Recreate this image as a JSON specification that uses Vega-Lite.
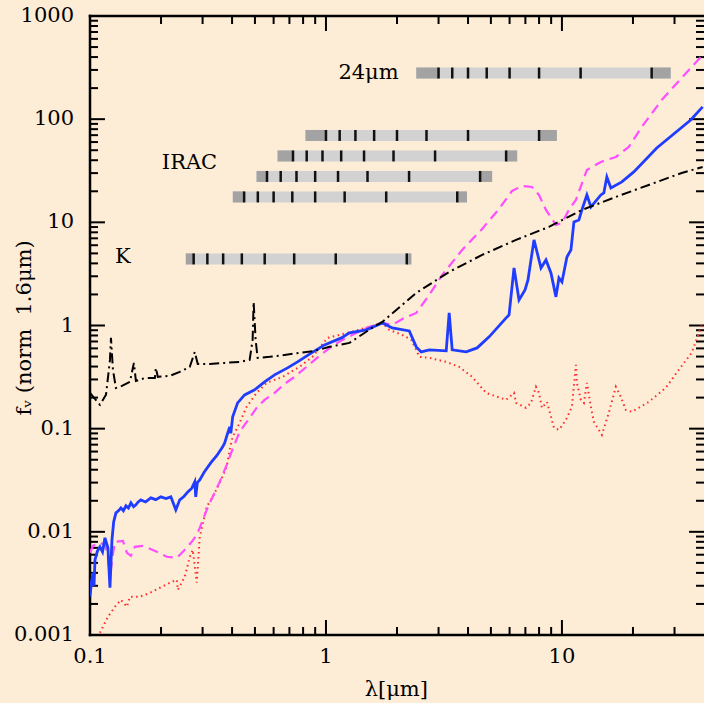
{
  "$schema": "https://vega.github.io/schema/vega-lite/v6.json",
  "width": 614,
  "height": 619,
  "autosize": {"type": "none"},
  "padding": {"left": 90, "top": 16, "right": 0, "bottom": 68},
  "background": "#fdecd6",
  "config": {
    "view": {"stroke": null},
    "font": "DejaVu Serif"
  },
  "datasets": {
    "xmaj": [{"v": 0.1}, {"v": 1}, {"v": 10}],
    "xmin": [{"v": 0.2}, {"v": 0.3}, {"v": 0.4}, {"v": 0.5}, {"v": 0.6}, {"v": 0.7}, {"v": 0.8}, {"v": 0.9},
             {"v": 2}, {"v": 3}, {"v": 4}, {"v": 5}, {"v": 6}, {"v": 7}, {"v": 8}, {"v": 9}, {"v": 20}, {"v": 30}],
    "ymaj": [{"v": 0.001}, {"v": 0.01}, {"v": 0.1}, {"v": 1}, {"v": 10}, {"v": 100}, {"v": 1000}],
    "ymin": [{"v": 0.002}, {"v": 0.003}, {"v": 0.004}, {"v": 0.005}, {"v": 0.006}, {"v": 0.007}, {"v": 0.008}, {"v": 0.009},
             {"v": 0.02}, {"v": 0.03}, {"v": 0.04}, {"v": 0.05}, {"v": 0.06}, {"v": 0.07}, {"v": 0.08}, {"v": 0.09},
             {"v": 0.2}, {"v": 0.3}, {"v": 0.4}, {"v": 0.5}, {"v": 0.6}, {"v": 0.7}, {"v": 0.8}, {"v": 0.9},
             {"v": 2}, {"v": 3}, {"v": 4}, {"v": 5}, {"v": 6}, {"v": 7}, {"v": 8}, {"v": 9},
             {"v": 20}, {"v": 30}, {"v": 40}, {"v": 50}, {"v": 60}, {"v": 70}, {"v": 80}, {"v": 90},
             {"v": 200}, {"v": 300}, {"v": 400}, {"v": 500}, {"v": 600}, {"v": 700}, {"v": 800}, {"v": 900}],
    "xlab": [{"v": 0.1, "t": "0.1"}, {"v": 1, "t": "1"}, {"v": 10, "t": "10"}],
    "ylab": [{"v": 0.001, "t": "0.001"}, {"v": 0.01, "t": "0.01"}, {"v": 0.1, "t": "0.1"}, {"v": 1, "t": "1"},
             {"v": 10, "t": "10"}, {"v": 100, "t": "100"}, {"v": 1000, "t": "1000"}],
    "bands": [
      {"band": "K", "f": 4.42, "lo": 0.2547, "hi": 2.30},
      {"band": "3.6", "f": 17.63, "lo": 0.403, "hi": 3.96},
      {"band": "4.5", "f": 27.85, "lo": 0.508, "hi": 5.06},
      {"band": "5.8", "f": 44.0, "lo": 0.6235, "hi": 6.46},
      {"band": "8.0", "f": 69.5, "lo": 0.819, "hi": 9.52},
      {"band": "24", "f": 280, "lo": 2.414, "hi": 28.9}
    ],
    "darks": [
      {"band": "K", "f": 4.42, "a": 0.2547, "b": 0.275},
      {"band": "K", "f": 4.42, "a": 2.2, "b": 2.30},
      {"band": "3.6", "f": 17.63, "a": 0.403, "b": 0.45},
      {"band": "3.6", "f": 17.63, "a": 3.6, "b": 3.96},
      {"band": "4.5", "f": 27.85, "a": 0.508, "b": 0.5625},
      {"band": "4.5", "f": 27.85, "a": 4.5, "b": 5.06},
      {"band": "5.8", "f": 44.0, "a": 0.6235, "b": 0.725},
      {"band": "5.8", "f": 44.0, "a": 5.8, "b": 6.46},
      {"band": "8.0", "f": 69.5, "a": 0.819, "b": 1.0},
      {"band": "8.0", "f": 69.5, "a": 8.0, "b": 9.52},
      {"band": "24", "f": 280, "a": 2.414, "b": 3.0},
      {"band": "24", "f": 280, "a": 24, "b": 28.9}
    ],
    "zticks": [
      {"band": "K", "f": 4.42, "lam": 2.2}, {"band": "K", "f": 4.42, "lam": 1.1}, {"band": "K", "f": 4.42, "lam": 0.7333}, {"band": "K", "f": 4.42, "lam": 0.55},
      {"band": "K", "f": 4.42, "lam": 0.44}, {"band": "K", "f": 4.42, "lam": 0.3667}, {"band": "K", "f": 4.42, "lam": 0.3143}, {"band": "K", "f": 4.42, "lam": 0.275},
      {"band": "3.6", "f": 17.63, "lam": 3.6}, {"band": "3.6", "f": 17.63, "lam": 1.8}, {"band": "3.6", "f": 17.63, "lam": 1.2}, {"band": "3.6", "f": 17.63, "lam": 0.9},
      {"band": "3.6", "f": 17.63, "lam": 0.72}, {"band": "3.6", "f": 17.63, "lam": 0.6}, {"band": "3.6", "f": 17.63, "lam": 0.5143}, {"band": "3.6", "f": 17.63, "lam": 0.45},
      {"band": "4.5", "f": 27.85, "lam": 4.5}, {"band": "4.5", "f": 27.85, "lam": 2.25}, {"band": "4.5", "f": 27.85, "lam": 1.5}, {"band": "4.5", "f": 27.85, "lam": 1.125},
      {"band": "4.5", "f": 27.85, "lam": 0.9}, {"band": "4.5", "f": 27.85, "lam": 0.75}, {"band": "4.5", "f": 27.85, "lam": 0.6429}, {"band": "4.5", "f": 27.85, "lam": 0.5625},
      {"band": "5.8", "f": 44.0, "lam": 5.8}, {"band": "5.8", "f": 44.0, "lam": 2.9}, {"band": "5.8", "f": 44.0, "lam": 1.9333}, {"band": "5.8", "f": 44.0, "lam": 1.45},
      {"band": "5.8", "f": 44.0, "lam": 1.16}, {"band": "5.8", "f": 44.0, "lam": 0.9667}, {"band": "5.8", "f": 44.0, "lam": 0.8286}, {"band": "5.8", "f": 44.0, "lam": 0.725},
      {"band": "8.0", "f": 69.5, "lam": 8.0}, {"band": "8.0", "f": 69.5, "lam": 4.0}, {"band": "8.0", "f": 69.5, "lam": 2.667}, {"band": "8.0", "f": 69.5, "lam": 2.0},
      {"band": "8.0", "f": 69.5, "lam": 1.6}, {"band": "8.0", "f": 69.5, "lam": 1.333}, {"band": "8.0", "f": 69.5, "lam": 1.143}, {"band": "8.0", "f": 69.5, "lam": 1.0},
      {"band": "24", "f": 280, "lam": 24}, {"band": "24", "f": 280, "lam": 12}, {"band": "24", "f": 280, "lam": 8}, {"band": "24", "f": 280, "lam": 6},
      {"band": "24", "f": 280, "lam": 4.8}, {"band": "24", "f": 280, "lam": 4.0}, {"band": "24", "f": 280, "lam": 3.429}, {"band": "24", "f": 280, "lam": 3.0}
    ],
    "labels": [
      {"text": "24μm", "lam": 1.129, "f": 280},
      {"text": "IRAC", "lam": 0.2016, "f": 37.6},
      {"text": "K", "lam": 0.1276, "f": 4.62}
    ],
    "red": [
      {"lam": 0.1102, "f": 0.00105}, {"lam": 0.1191, "f": 0.00150}, {"lam": 0.1276, "f": 0.00188}, {"lam": 0.1352, "f": 0.00219},
      {"lam": 0.1434, "f": 0.00188}, {"lam": 0.1476, "f": 0.00235}, {"lam": 0.1627, "f": 0.00235}, {"lam": 0.1794, "f": 0.00256},
      {"lam": 0.1977, "f": 0.00287}, {"lam": 0.2180, "f": 0.00321}, {"lam": 0.2333, "f": 0.00343}, {"lam": 0.2356, "f": 0.00274},
      {"lam": 0.2522, "f": 0.00367}, {"lam": 0.2648, "f": 0.00573}, {"lam": 0.2726, "f": 0.00669}, {"lam": 0.2834, "f": 0.00321},
      {"lam": 0.2918, "f": 0.00895}, {"lam": 0.3123, "f": 0.01748}, {"lam": 0.3312, "f": 0.02183}, {"lam": 0.3546, "f": 0.02984},
      {"lam": 0.3796, "f": 0.04265}, {"lam": 0.3908, "f": 0.06232}, {"lam": 0.4024, "f": 0.0832}, {"lam": 0.4306, "f": 0.1138},
      {"lam": 0.4611, "f": 0.1627}, {"lam": 0.5083, "f": 0.2223}, {"lam": 0.5603, "f": 0.2779}, {"lam": 0.6548, "f": 0.3177},
      {"lam": 0.7725, "f": 0.3970}, {"lam": 0.8768, "f": 0.4963}, {"lam": 1.0146, "f": 0.7584}, {"lam": 1.233, "f": 0.8480},
      {"lam": 1.527, "f": 0.9692}, {"lam": 1.734, "f": 1.060}, {"lam": 1.856, "f": 0.9066}, {"lam": 2.106, "f": 0.8107},
      {"lam": 2.298, "f": 0.7252}, {"lam": 2.414, "f": 0.5803}, {"lam": 2.485, "f": 0.4963}, {"lam": 2.739, "f": 0.4855},
      {"lam": 3.233, "f": 0.4440}, {"lam": 3.668, "f": 0.3970}, {"lam": 4.163, "f": 0.3177}, {"lam": 4.771, "f": 0.2223},
      {"lam": 5.798, "f": 0.1901}, {"lam": 6.266, "f": 0.2223}, {"lam": 6.391, "f": 0.1778}, {"lam": 7.044, "f": 0.1591},
      {"lam": 7.393, "f": 0.1778}, {"lam": 7.762, "f": 0.2542}, {"lam": 7.992, "f": 0.2223}, {"lam": 8.229, "f": 0.1591},
      {"lam": 8.643, "f": 0.1818}, {"lam": 9.252, "f": 0.1018}, {"lam": 9.712, "f": 0.0974}, {"lam": 10.40, "f": 0.1217},
      {"lam": 11.02, "f": 0.1627}, {"lam": 11.46, "f": 0.4151}, {"lam": 11.57, "f": 0.2779}, {"lam": 12.03, "f": 0.1901},
      {"lam": 12.39, "f": 0.1778}, {"lam": 12.76, "f": 0.2779}, {"lam": 13.27, "f": 0.1627}, {"lam": 13.66, "f": 0.1164},
      {"lam": 14.33, "f": 0.0974}, {"lam": 14.76, "f": 0.0871}, {"lam": 15.80, "f": 0.1422}, {"lam": 16.92, "f": 0.2542},
      {"lam": 17.77, "f": 0.2033}, {"lam": 18.65, "f": 0.1521}, {"lam": 19.77, "f": 0.1455}, {"lam": 23.33, "f": 0.1818},
      {"lam": 27.53, "f": 0.2485}, {"lam": 31.25, "f": 0.3713}, {"lam": 35.45, "f": 0.5426}, {"lam": 39.47, "f": 1.060}
    ],
    "magenta": [
      {"lam": 0.1000, "f": 0.00626}, {"lam": 0.1030, "f": 0.00732}, {"lam": 0.1102, "f": 0.00782}, {"lam": 0.1157, "f": 0.00748},
      {"lam": 0.1191, "f": 0.00573}, {"lam": 0.1215, "f": 0.00343}, {"lam": 0.1239, "f": 0.00536}, {"lam": 0.1276, "f": 0.0080},
      {"lam": 0.1379, "f": 0.00818}, {"lam": 0.1434, "f": 0.00626}, {"lam": 0.1491, "f": 0.00586}, {"lam": 0.1550, "f": 0.00716},
      {"lam": 0.1660, "f": 0.00732}, {"lam": 0.1759, "f": 0.00700}, {"lam": 0.1920, "f": 0.00640}, {"lam": 0.2117, "f": 0.00573},
      {"lam": 0.2333, "f": 0.00560}, {"lam": 0.2522, "f": 0.00669}, {"lam": 0.2700, "f": 0.0080}, {"lam": 0.2834, "f": 0.00935},
      {"lam": 0.2918, "f": 0.01093}, {"lam": 0.3123, "f": 0.01634}, {"lam": 0.3312, "f": 0.02183}, {"lam": 0.3546, "f": 0.03051},
      {"lam": 0.3796, "f": 0.04459}, {"lam": 0.4024, "f": 0.06372}, {"lam": 0.4306, "f": 0.0931}, {"lam": 0.4748, "f": 0.1273},
      {"lam": 0.5083, "f": 0.1591}, {"lam": 0.5495, "f": 0.1901}, {"lam": 0.6057, "f": 0.2223}, {"lam": 0.6676, "f": 0.2716},
      {"lam": 0.7360, "f": 0.3177}, {"lam": 0.8270, "f": 0.3970}, {"lam": 0.9386, "f": 0.5074}, {"lam": 1.0654, "f": 0.6344},
      {"lam": 1.1972, "f": 0.7417}, {"lam": 1.346, "f": 0.8480}, {"lam": 1.527, "f": 0.9692}, {"lam": 1.734, "f": 1.060},
      {"lam": 1.910, "f": 1.013}, {"lam": 2.147, "f": 1.184}, {"lam": 2.414, "f": 1.324}, {"lam": 2.739, "f": 1.979},
      {"lam": 3.109, "f": 3.093}, {"lam": 3.778, "f": 5.403}, {"lam": 4.589, "f": 8.63}, {"lam": 5.415, "f": 13.49},
      {"lam": 6.146, "f": 20.15}, {"lam": 6.774, "f": 22.53}, {"lam": 7.466, "f": 22.03}, {"lam": 7.992, "f": 18.42},
      {"lam": 8.557, "f": 13.19}, {"lam": 9.433, "f": 9.44}, {"lam": 10.00, "f": 9.87}, {"lam": 10.70, "f": 13.19},
      {"lam": 11.46, "f": 16.49}, {"lam": 12.76, "f": 32.2}, {"lam": 14.62, "f": 38.5}, {"lam": 16.92, "f": 43.0},
      {"lam": 19.20, "f": 53.8}, {"lam": 21.79, "f": 84.0}, {"lam": 26.48, "f": 153.6}, {"lam": 32.17, "f": 250.9},
      {"lam": 39.47, "f": 419}
    ],
    "blue": [
      {"lam": 0.1000, "f": 0.00235}, {"lam": 0.1015, "f": 0.00330}, {"lam": 0.1030, "f": 0.00401}, {"lam": 0.1040, "f": 0.00300}, {"lam": 0.1050, "f": 0.00536}, {"lam": 0.1075, "f": 0.00650}, {"lam": 0.1102, "f": 0.00716},
      {"lam": 0.1130, "f": 0.00640}, {"lam": 0.1157, "f": 0.00875}, {"lam": 0.1191, "f": 0.00700}, {"lam": 0.1215, "f": 0.00287}, {"lam": 0.1239, "f": 0.00837},
      {"lam": 0.1260, "f": 0.01250}, {"lam": 0.1288, "f": 0.01528}, {"lam": 0.1320, "f": 0.01600}, {"lam": 0.1352, "f": 0.01709}, {"lam": 0.1385, "f": 0.01600}, {"lam": 0.1420, "f": 0.01786}, {"lam": 0.1455, "f": 0.01700}, {"lam": 0.1491, "f": 0.01910},
      {"lam": 0.1530, "f": 0.01750}, {"lam": 0.1565, "f": 0.01826}, {"lam": 0.1600, "f": 0.01950}, {"lam": 0.1643, "f": 0.02042}, {"lam": 0.1720, "f": 0.01950}, {"lam": 0.1811, "f": 0.02135}, {"lam": 0.1900, "f": 0.02050}, {"lam": 0.1996, "f": 0.02183},
      {"lam": 0.2100, "f": 0.02100}, {"lam": 0.2201, "f": 0.02183}, {"lam": 0.2310, "f": 0.01634}, {"lam": 0.2401, "f": 0.02042}, {"lam": 0.2500, "f": 0.02200}, {"lam": 0.2597, "f": 0.02441},
      {"lam": 0.2700, "f": 0.02650}, {"lam": 0.2780, "f": 0.03051}, {"lam": 0.2806, "f": 0.02183}, {"lam": 0.2850, "f": 0.03000}, {"lam": 0.2918, "f": 0.03191}, {"lam": 0.3050, "f": 0.03800}, {"lam": 0.3248, "f": 0.04662},
      {"lam": 0.3450, "f": 0.05500}, {"lam": 0.3650, "f": 0.06664}, {"lam": 0.3722, "f": 0.07285}, {"lam": 0.3800, "f": 0.08500}, {"lam": 0.3908, "f": 0.1041}, {"lam": 0.3950, "f": 0.0900}, {"lam": 0.4024, "f": 0.1301},
      {"lam": 0.4223, "f": 0.1778}, {"lam": 0.4521, "f": 0.2126}, {"lam": 0.4985, "f": 0.2377}, {"lam": 0.5495, "f": 0.2841},
      {"lam": 0.6057, "f": 0.3322}, {"lam": 0.6875, "f": 0.3883}, {"lam": 0.7577, "f": 0.4440}, {"lam": 0.8683, "f": 0.5426},
      {"lam": 0.9856, "f": 0.6486}, {"lam": 1.163, "f": 0.7584}, {"lam": 1.257, "f": 0.8480}, {"lam": 1.483, "f": 0.9066},
      {"lam": 1.734, "f": 1.060}, {"lam": 1.910, "f": 0.9480}, {"lam": 2.255, "f": 0.8866}, {"lam": 2.322, "f": 0.7584},
      {"lam": 2.414, "f": 0.6206}, {"lam": 2.534, "f": 0.5550}, {"lam": 2.739, "f": 0.5803}, {"lam": 3.233, "f": 0.5675},
      {"lam": 3.328, "f": 1.324}, {"lam": 3.427, "f": 0.5803}, {"lam": 3.928, "f": 0.5550}, {"lam": 4.371, "f": 0.6065},
      {"lam": 4.914, "f": 0.7758}, {"lam": 5.853, "f": 1.211}, {"lam": 5.969, "f": 1.267}, {"lam": 6.266, "f": 3.614},
      {"lam": 6.579, "f": 1.771}, {"lam": 6.974, "f": 2.213}, {"lam": 7.180, "f": 2.766}, {"lam": 7.614, "f": 6.76},
      {"lam": 8.152, "f": 3.614}, {"lam": 8.557, "f": 4.32}, {"lam": 8.984, "f": 3.234}, {"lam": 9.433, "f": 1.893},
      {"lam": 9.712, "f": 2.891}, {"lam": 10.00, "f": 2.644}, {"lam": 10.50, "f": 4.62}, {"lam": 10.92, "f": 5.403},
      {"lam": 11.24, "f": 10.09}, {"lam": 11.80, "f": 10.55}, {"lam": 12.15, "f": 13.19}, {"lam": 12.76, "f": 18.42},
      {"lam": 13.27, "f": 14.11}, {"lam": 14.62, "f": 18.42}, {"lam": 15.05, "f": 19.27}, {"lam": 15.50, "f": 27.55},
      {"lam": 16.12, "f": 21.54}, {"lam": 17.94, "f": 24.63}, {"lam": 20.16, "f": 30.8}, {"lam": 25.22, "f": 52.6},
      {"lam": 35.12, "f": 98.2}, {"lam": 39.47, "f": 131.5}
    ],
    "black": [
      {"lam": 0.100, "f": 0.222}, {"lam": 0.1102, "f": 0.170}, {"lam": 0.1169, "f": 0.213}, {"lam": 0.1215, "f": 0.464},
      {"lam": 0.1227, "f": 0.758}, {"lam": 0.1251, "f": 0.371}, {"lam": 0.1288, "f": 0.248}, {"lam": 0.1366, "f": 0.260},
      {"lam": 0.1476, "f": 0.284}, {"lam": 0.1535, "f": 0.434}, {"lam": 0.1565, "f": 0.290}, {"lam": 0.1709, "f": 0.310},
      {"lam": 0.1883, "f": 0.310}, {"lam": 0.1901, "f": 0.388}, {"lam": 0.1938, "f": 0.318}, {"lam": 0.2180, "f": 0.325},
      {"lam": 0.2401, "f": 0.355}, {"lam": 0.2648, "f": 0.397}, {"lam": 0.2780, "f": 0.555}, {"lam": 0.2862, "f": 0.424},
      {"lam": 0.3216, "f": 0.424}, {"lam": 0.3722, "f": 0.434}, {"lam": 0.4306, "f": 0.444}, {"lam": 0.4748, "f": 0.464},
      {"lam": 0.4889, "f": 0.725}, {"lam": 0.4937, "f": 1.69}, {"lam": 0.5034, "f": 0.725}, {"lam": 0.5133, "f": 0.486},
      {"lam": 0.5769, "f": 0.497}, {"lam": 0.6676, "f": 0.519}, {"lam": 0.7725, "f": 0.543}, {"lam": 0.8941, "f": 0.567},
      {"lam": 1.035, "f": 0.621}, {"lam": 1.257, "f": 0.678}, {"lam": 1.604, "f": 0.98}, {"lam": 1.734, "f": 1.084},
      {"lam": 2.414, "f": 2.070}, {"lam": 3.328, "f": 3.307}, {"lam": 4.589, "f": 4.83}, {"lam": 6.391, "f": 6.76},
      {"lam": 8.810, "f": 9.03}, {"lam": 12.15, "f": 13.19}, {"lam": 16.92, "f": 17.63}, {"lam": 23.33, "f": 23.04},
      {"lam": 32.17, "f": 30.1}, {"lam": 39.47, "f": 34.4}
    ]
  },
  "layer": [
    {
      "data": {"name": "ymaj"},
      "mark": {"type": "rule", "color": "black", "strokeWidth": 2, "strokeCap": "butt"},
      "encoding": {
        "y": {"field": "v", "type": "quantitative", "scale": {"type": "log", "domain": [0.001, 1000], "nice": false}, "axis": null},
        "x": {"datum": 0.11572, "type": "quantitative", "scale": {"type": "log", "domain": [0.1, 40], "nice": false}, "axis": null},
        "x2": {"datum": 0.1}
      }
    },
    {
      "data": {"name": "ymin"},
      "mark": {"type": "rule", "color": "black", "strokeWidth": 2, "strokeCap": "butt"},
      "encoding": {
        "y": {"field": "v", "type": "quantitative", "scale": {"type": "log", "domain": [0.001, 1000], "nice": false}, "axis": null},
        "x": {"datum": 0.10810, "type": "quantitative", "scale": {"type": "log", "domain": [0.1, 40], "nice": false}, "axis": null},
        "x2": {"datum": 0.1}
      }
    },
    {
      "data": {"name": "ymaj"},
      "mark": {"type": "rule", "color": "black", "strokeWidth": 2, "strokeCap": "butt"},
      "encoding": {
        "y": {"field": "v", "type": "quantitative", "scale": {"type": "log", "domain": [0.001, 1000], "nice": false}, "axis": null},
        "x": {"datum": 40, "type": "quantitative", "scale": {"type": "log", "domain": [0.1, 40], "nice": false}, "axis": null},
        "x2": {"datum": 34.57}
      }
    },
    {
      "data": {"name": "ymin"},
      "mark": {"type": "rule", "color": "black", "strokeWidth": 2, "strokeCap": "butt"},
      "encoding": {
        "y": {"field": "v", "type": "quantitative", "scale": {"type": "log", "domain": [0.001, 1000], "nice": false}, "axis": null},
        "x": {"datum": 40, "type": "quantitative", "scale": {"type": "log", "domain": [0.1, 40], "nice": false}, "axis": null},
        "x2": {"datum": 37.0}
      }
    },
    {
      "data": {"name": "xmaj"},
      "mark": {"type": "rule", "color": "black", "strokeWidth": 2, "strokeCap": "butt"},
      "encoding": {
        "x": {"field": "v", "type": "quantitative", "scale": {"type": "log", "domain": [0.1, 40], "nice": false}, "axis": null},
        "y": {"datum": 0.0013974, "type": "quantitative", "scale": {"type": "log", "domain": [0.001, 1000], "nice": false}, "axis": null},
        "y2": {"datum": 0.001}
      }
    },
    {
      "data": {"name": "xmin"},
      "mark": {"type": "rule", "color": "black", "strokeWidth": 2, "strokeCap": "butt"},
      "encoding": {
        "x": {"field": "v", "type": "quantitative", "scale": {"type": "log", "domain": [0.1, 40], "nice": false}, "axis": null},
        "y": {"datum": 0.0011953, "type": "quantitative", "scale": {"type": "log", "domain": [0.001, 1000], "nice": false}, "axis": null},
        "y2": {"datum": 0.001}
      }
    },
    {
      "data": {"name": "xmaj"},
      "mark": {"type": "rule", "color": "black", "strokeWidth": 2, "strokeCap": "butt"},
      "encoding": {
        "x": {"field": "v", "type": "quantitative", "scale": {"type": "log", "domain": [0.1, 40], "nice": false}, "axis": null},
        "y": {"datum": 715.6, "type": "quantitative", "scale": {"type": "log", "domain": [0.001, 1000], "nice": false}, "axis": null},
        "y2": {"datum": 1000}
      }
    },
    {
      "data": {"name": "xmin"},
      "mark": {"type": "rule", "color": "black", "strokeWidth": 2, "strokeCap": "butt"},
      "encoding": {
        "x": {"field": "v", "type": "quantitative", "scale": {"type": "log", "domain": [0.1, 40], "nice": false}, "axis": null},
        "y": {"datum": 836.6, "type": "quantitative", "scale": {"type": "log", "domain": [0.001, 1000], "nice": false}, "axis": null},
        "y2": {"datum": 1000}
      }
    },
    {
      "data": {"values": [{"k": "frame"}]},
      "mark": {"type": "rule", "color": "black", "strokeWidth": 2.5, "strokeCap": "square"},
      "encoding": {
        "x": {"datum": 0.1, "type": "quantitative", "scale": {"type": "log", "domain": [0.1, 40], "nice": false}, "axis": null},
        "x2": {"datum": 40},
        "y": {"datum": 0.001, "type": "quantitative", "scale": {"type": "log", "domain": [0.001, 1000], "nice": false}, "axis": null}
      }
    },
    {
      "data": {"values": [{"k": "frame"}]},
      "mark": {"type": "rule", "color": "black", "strokeWidth": 2.5, "strokeCap": "square"},
      "encoding": {
        "x": {"datum": 0.1, "type": "quantitative", "scale": {"type": "log", "domain": [0.1, 40], "nice": false}, "axis": null},
        "x2": {"datum": 40},
        "y": {"datum": 1000, "type": "quantitative", "scale": {"type": "log", "domain": [0.001, 1000], "nice": false}, "axis": null}
      }
    },
    {
      "data": {"values": [{"k": "frame"}]},
      "mark": {"type": "rule", "color": "black", "strokeWidth": 2.5, "strokeCap": "square"},
      "encoding": {
        "x": {"datum": 0.1, "type": "quantitative", "scale": {"type": "log", "domain": [0.1, 40], "nice": false}, "axis": null},
        "y": {"datum": 0.001, "type": "quantitative", "scale": {"type": "log", "domain": [0.001, 1000], "nice": false}, "axis": null},
        "y2": {"datum": 1000}
      }
    },
    {
      "data": {"name": "bands"},
      "mark": {"type": "rule", "color": "#d2d2d2", "strokeWidth": 11, "strokeCap": "butt"},
      "encoding": {
        "x": {"field": "lo", "type": "quantitative", "scale": {"type": "log", "domain": [0.1, 40], "nice": false}, "axis": null},
        "x2": {"field": "hi"},
        "y": {"field": "f", "type": "quantitative", "scale": {"type": "log", "domain": [0.001, 1000], "nice": false}, "axis": null}
      }
    },
    {
      "data": {"name": "darks"},
      "mark": {"type": "rule", "color": "#a3a3a3", "strokeWidth": 11, "strokeCap": "butt"},
      "encoding": {
        "x": {"field": "a", "type": "quantitative", "scale": {"type": "log", "domain": [0.1, 40], "nice": false}, "axis": null},
        "x2": {"field": "b"},
        "y": {"field": "f", "type": "quantitative", "scale": {"type": "log", "domain": [0.001, 1000], "nice": false}, "axis": null}
      }
    },
    {
      "data": {"name": "zticks"},
      "mark": {"type": "tick", "orient": "vertical", "color": "#111111", "size": 11, "thickness": 2.5, "opacity": 1},
      "encoding": {
        "x": {"field": "lam", "type": "quantitative", "scale": {"type": "log", "domain": [0.1, 40], "nice": false}, "axis": null},
        "y": {"field": "f", "type": "quantitative", "scale": {"type": "log", "domain": [0.001, 1000], "nice": false}, "axis": null}
      }
    },
    {
      "data": {"name": "red"},
      "mark": {"type": "line", "color": "#ff2a2a", "strokeWidth": 2, "strokeDash": [1.5, 3.5], "clip": true},
      "encoding": {
        "x": {"field": "lam", "type": "quantitative", "scale": {"type": "log", "domain": [0.1, 40], "nice": false}, "axis": null},
        "y": {"field": "f", "type": "quantitative", "scale": {"type": "log", "domain": [0.001, 1000], "nice": false}, "axis": null}
      }
    },
    {
      "data": {"name": "magenta"},
      "mark": {"type": "line", "color": "#ff4dff", "strokeWidth": 2.2, "strokeDash": [10, 6], "clip": true},
      "encoding": {
        "x": {"field": "lam", "type": "quantitative", "scale": {"type": "log", "domain": [0.1, 40], "nice": false}, "axis": null},
        "y": {"field": "f", "type": "quantitative", "scale": {"type": "log", "domain": [0.001, 1000], "nice": false}, "axis": null}
      }
    },
    {
      "data": {"name": "blue"},
      "mark": {"type": "line", "color": "#1f3cff", "strokeWidth": 2.8, "clip": true},
      "encoding": {
        "x": {"field": "lam", "type": "quantitative", "scale": {"type": "log", "domain": [0.1, 40], "nice": false}, "axis": null},
        "y": {"field": "f", "type": "quantitative", "scale": {"type": "log", "domain": [0.001, 1000], "nice": false}, "axis": null}
      }
    },
    {
      "data": {"name": "black"},
      "mark": {"type": "line", "color": "black", "strokeWidth": 2, "strokeDash": [10, 4, 2, 4], "clip": true},
      "encoding": {
        "x": {"field": "lam", "type": "quantitative", "scale": {"type": "log", "domain": [0.1, 40], "nice": false}, "axis": null},
        "y": {"field": "f", "type": "quantitative", "scale": {"type": "log", "domain": [0.001, 1000], "nice": false}, "axis": null}
      }
    },
    {
      "data": {"name": "labels"},
      "mark": {"type": "text", "align": "left", "baseline": "middle", "font": "DejaVu Serif", "fontSize": 21, "color": "black"},
      "encoding": {
        "x": {"field": "lam", "type": "quantitative", "scale": {"type": "log", "domain": [0.1, 40], "nice": false}, "axis": null},
        "y": {"field": "f", "type": "quantitative", "scale": {"type": "log", "domain": [0.001, 1000], "nice": false}, "axis": null},
        "text": {"field": "text"}
      }
    },
    {
      "data": {"name": "xlab"},
      "mark": {"type": "text", "align": "center", "baseline": "middle", "font": "DejaVu Serif", "fontSize": 21, "color": "black"},
      "encoding": {
        "x": {"field": "v", "type": "quantitative", "scale": {"type": "log", "domain": [0.1, 40], "nice": false}, "axis": null},
        "y": {"datum": 0.000612, "type": "quantitative", "scale": {"type": "log", "domain": [0.001, 1000], "nice": false}, "axis": null},
        "text": {"field": "t"}
      }
    },
    {
      "data": {"name": "ylab"},
      "mark": {"type": "text", "align": "right", "baseline": "middle", "font": "DejaVu Serif", "fontSize": 21, "color": "black"},
      "encoding": {
        "x": {"datum": 0.08557, "type": "quantitative", "scale": {"type": "log", "domain": [0.1, 40], "nice": false}, "axis": null},
        "y": {"field": "v", "type": "quantitative", "scale": {"type": "log", "domain": [0.001, 1000], "nice": false}, "axis": null},
        "text": {"field": "t"}
      }
    },
    {
      "data": {"values": [{"t": "λ[μm]"}]},
      "mark": {"type": "text", "align": "center", "baseline": "middle", "font": "DejaVu Serif", "fontSize": 21, "color": "black"},
      "encoding": {
        "x": {"datum": 1.987, "type": "quantitative", "scale": {"type": "log", "domain": [0.1, 40], "nice": false}, "axis": null},
        "y": {"datum": 0.000293, "type": "quantitative", "scale": {"type": "log", "domain": [0.001, 1000], "nice": false}, "axis": null},
        "text": {"field": "t"}
      }
    },
    {
      "data": {"values": [{"t": "f\u1d65\u00a0(norm\u00a0\u00a01.6μm)"}]},
      "mark": {"type": "text", "align": "center", "baseline": "middle", "angle": 270, "font": "DejaVu Serif", "fontSize": 21, "color": "black"},
      "encoding": {
        "x": {"datum": 0.0531, "type": "quantitative", "scale": {"type": "log", "domain": [0.1, 40], "nice": false}, "axis": null},
        "y": {"datum": 0.948, "type": "quantitative", "scale": {"type": "log", "domain": [0.001, 1000], "nice": false}, "axis": null},
        "text": {"field": "t"}
      }
    }
  ]
}
